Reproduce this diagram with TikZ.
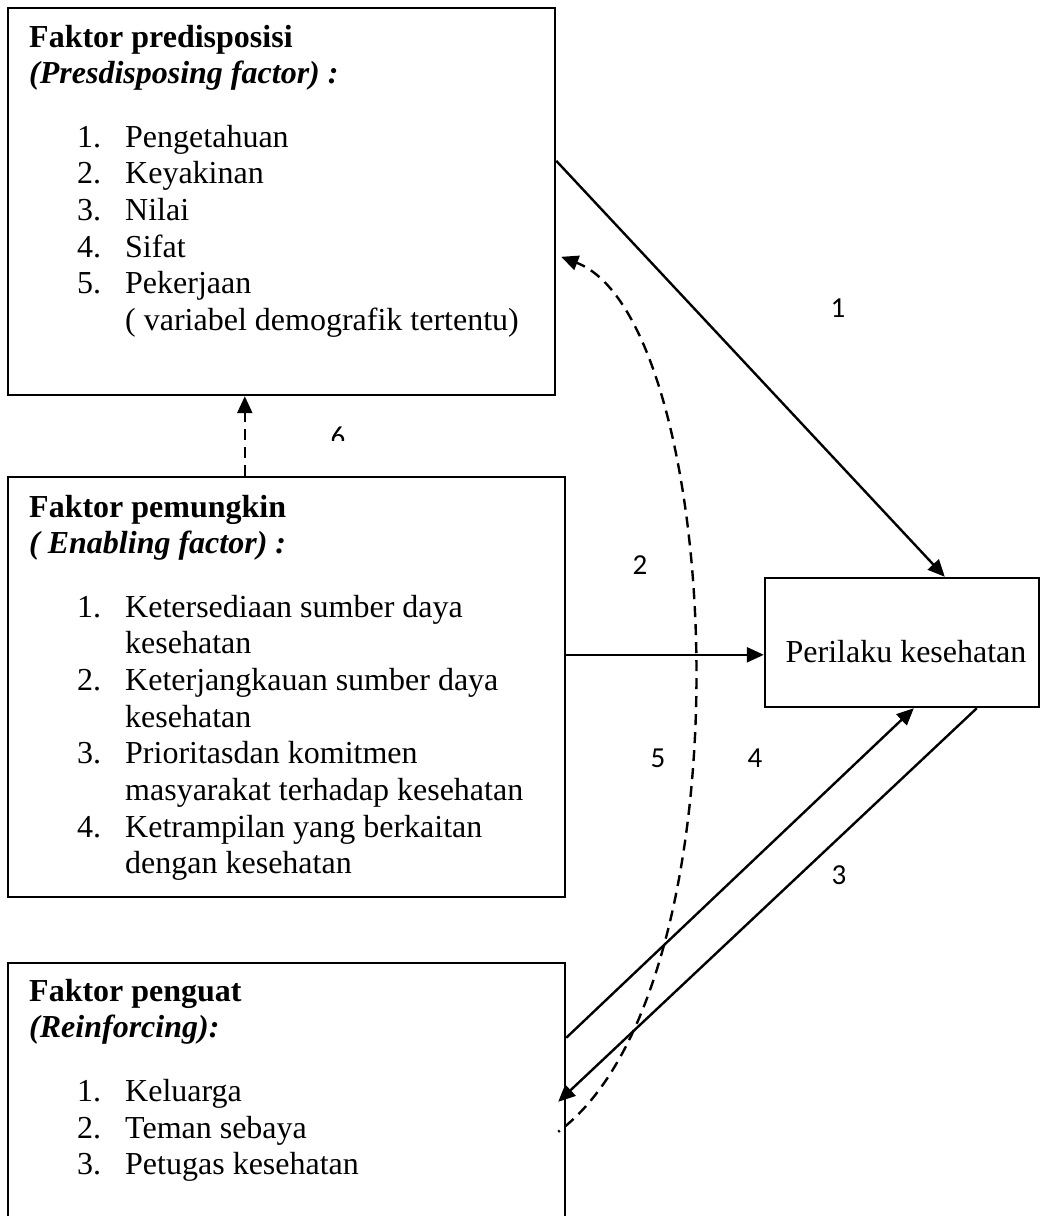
\documentclass[tikz,border=0pt]{standalone}
\usepackage{fontspec}
\setmainfont{Liberation Serif}
\newfontfamily\lblfont{Carlito}
\usetikzlibrary{arrows.meta,calc}
\begin{document}
\begin{tikzpicture}[x=1pt,y=-1pt,
  box/.style={draw, line width=2.4pt, inner sep=0pt, rectangle},
  conn/.style={line width=2.4pt, -{Triangle[length=17pt,width=15pt]}},
  dconn/.style={conn, dash pattern=on 11pt off 7pt},
  txt/.style={anchor=base west, inner sep=0pt, font=\fontsize{32}{38}\selectfont},
  ttl/.style={anchor=base west, inner sep=0pt, font=\fontsize{32}{38}\selectfont\bfseries},
  ttli/.style={anchor=base west, inner sep=0pt, font=\fontsize{32}{38}\selectfont\bfseries\itshape},
  lbl/.style={inner sep=0pt, font=\lblfont\fontsize{29}{34}\selectfont}]
\useasboundingbox (0,0) rectangle (1041,1216);
\fill[white] (0,0) rectangle (1041,1216);

% boxes
\node[box, minimum width=547pt, minimum height=387pt] (pre) at (281.5,201.5) {};
\node[box, minimum width=557pt, minimum height=420pt] (ena) at (286.5,687) {};
\node[box, minimum width=274pt, minimum height=129pt] (beh) at (902,642.5) {};
\node[box, minimum width=557pt, minimum height=277pt] (rei) at (286.5,1101.5) {};

% box 1 text
\node[ttl] (t1a) at (29,47) {Faktor predisposisi};
\node[ttli] (t1b) at (29,83) {(Presdisposing factor) :};
\node[txt] (n11) at (77,147) {1.};
\node[txt] (i11) at (125,147) {Pengetahuan};
\node[txt] (n12) at (77,183) {2.};
\node[txt] (i12) at (125,183) {Keyakinan};
\node[txt] (n13) at (77,220) {3.};
\node[txt] (i13) at (125,220) {Nilai};
\node[txt] (n14) at (77,257) {4.};
\node[txt] (i14) at (125,257) {Sifat};
\node[txt] (n15) at (77,293) {5.};
\node[txt] (i15) at (125,293) {Pekerjaan};
\node[txt] (i16) at (125,330) {( variabel demografik tertentu)};

% box 2 text
\node[ttl] (t2a) at (29,517) {Faktor pemungkin};
\node[ttli] (t2b) at (29,553) {( Enabling factor) :};
\node[txt] (n21) at (77,617) {1.};
\node[txt] (i21) at (125,617) {Ketersediaan sumber daya};
\node[txt] (i22) at (125,653) {kesehatan};
\node[txt] (n22) at (77,690) {2.};
\node[txt] (i23) at (125,690) {Keterjangkauan sumber daya};
\node[txt] (i24) at (125,727) {kesehatan};
\node[txt] (n23) at (77,763) {3.};
\node[txt] (i25) at (125,763) {Prioritasdan komitmen};
\node[txt] (i26) at (125,800) {masyarakat terhadap kesehatan};
\node[txt] (n24) at (77,837) {4.};
\node[txt] (i27) at (125,837) {Ketrampilan yang berkaitan};
\node[txt] (i28) at (125,873) {dengan kesehatan};

% box 3 text
\node[txt, anchor=base] (t3) at (906,662) {Perilaku kesehatan};

% box 4 text
\node[ttl] (t4a) at (29,1001) {Faktor penguat};
\node[ttli] (t4b) at (29,1037) {(Reinforcing):};
\node[txt] (n41) at (77,1101) {1.};
\node[txt] (i41) at (125,1101) {Keluarga};
\node[txt] (n42) at (77,1138) {2.};
\node[txt] (i42) at (125,1138) {Teman sebaya};
\node[txt] (n43) at (77,1174) {3.};
\node[txt] (i43) at (125,1174) {Petugas kesehatan};

% connectors
\draw[conn] ($(pre.north east)+(0,154)$) -- ($(beh.north west)+(181,0)$);
\draw[conn] ($(ena.north east)+(0,179)$) -- ($(beh.north west)+(0,78)$);
\draw[dconn] ($(ena.north west)+(238,0)$) -- ($(pre.south west)+(238,0)$);
\draw[conn] ($(rei.north east)+(0,76)$) -- ($(beh.south west)+(150,0)$);
\draw[conn] ($(beh.south west)+(213,0)$) -- ($(rei.north east)+(-8,140)$);
\draw[dconn, dash phase=9pt] ($(rei.north east)+(-8,170)$) .. controls (755,985) and (724,319.5) .. ($(pre.north east)+(5,250)$);

% labels
\node[lbl] (l1) at (838,308) {1};
\node[lbl] (l2) at (640,565) {2};
\node[lbl] (l5) at (658,758) {5};
\node[lbl] (l4) at (755,758) {4};
\node[lbl] (l3) at (839,875) {3};
\begin{scope}
\clip (300,400) rectangle (380,440);
\node[lbl] (l6) at (338,437) {6};
\end{scope}
\end{tikzpicture}
\end{document}
